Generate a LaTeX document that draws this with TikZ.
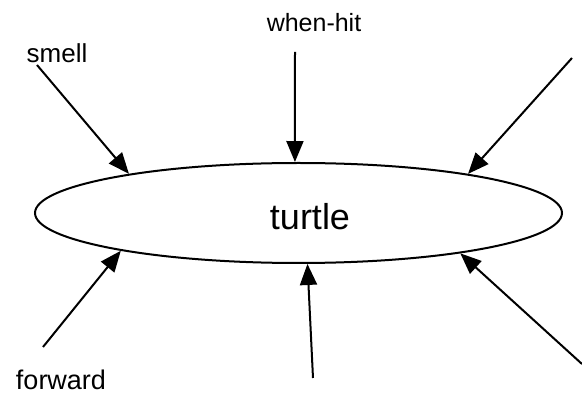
\documentclass[tikz,border=0pt]{standalone}
\usepackage{fontspec}
\setmainfont{Liberation Sans}
\usetikzlibrary{shapes.geometric,arrows.meta}

\tikzset{
  msg/.style={-{Triangle[length=21pt,width=17pt]}, line width=2pt},
  lbl/.style={anchor=base, inner sep=0pt, font=\fontsize{26}{31}\selectfont},
}

\begin{document}
\begin{tikzpicture}[x=1pt, y=-1pt]
  \useasboundingbox (0,0) rectangle (582,398);
  \node[ellipse, draw, line width=2pt, minimum width=527pt, minimum height=100pt, inner sep=0pt] (turtle) at (298.5,213) {};
  \node[anchor=base, inner sep=0pt, font=\fontsize{36}{42}\selectfont] (turtlename) at (310,230) {turtle};
  \node[lbl] (smell) at (57,63) {smell};
  \node[lbl, font=\fontsize{25}{30}\selectfont] (whenhit) at (314,32) {when-hit};
  \node[lbl, font=\fontsize{27}{32}\selectfont] (forward) at (61,390) {forward};
  \coordinate (smellin) at (37,65);
  \coordinate (hitin) at (295,52);
  \coordinate (topright) at (572,58);
  \coordinate (forwardin) at (43,347);
  \coordinate (bottom) at (313,378);
  \coordinate (bottomright) at (582,364);
  \draw[msg] (smellin) -- (turtle.167.9);
  \draw[msg] (hitin) -- (turtle.94);
  \draw[msg] (topright) -- (turtle.13.7);
  \draw[msg] (forwardin) -- (turtle.192.7);
  \draw[msg] (bottom) -- (turtle.280.6);
  \draw[msg] (bottomright) -- (turtle.346.1);
\end{tikzpicture}
\end{document}
